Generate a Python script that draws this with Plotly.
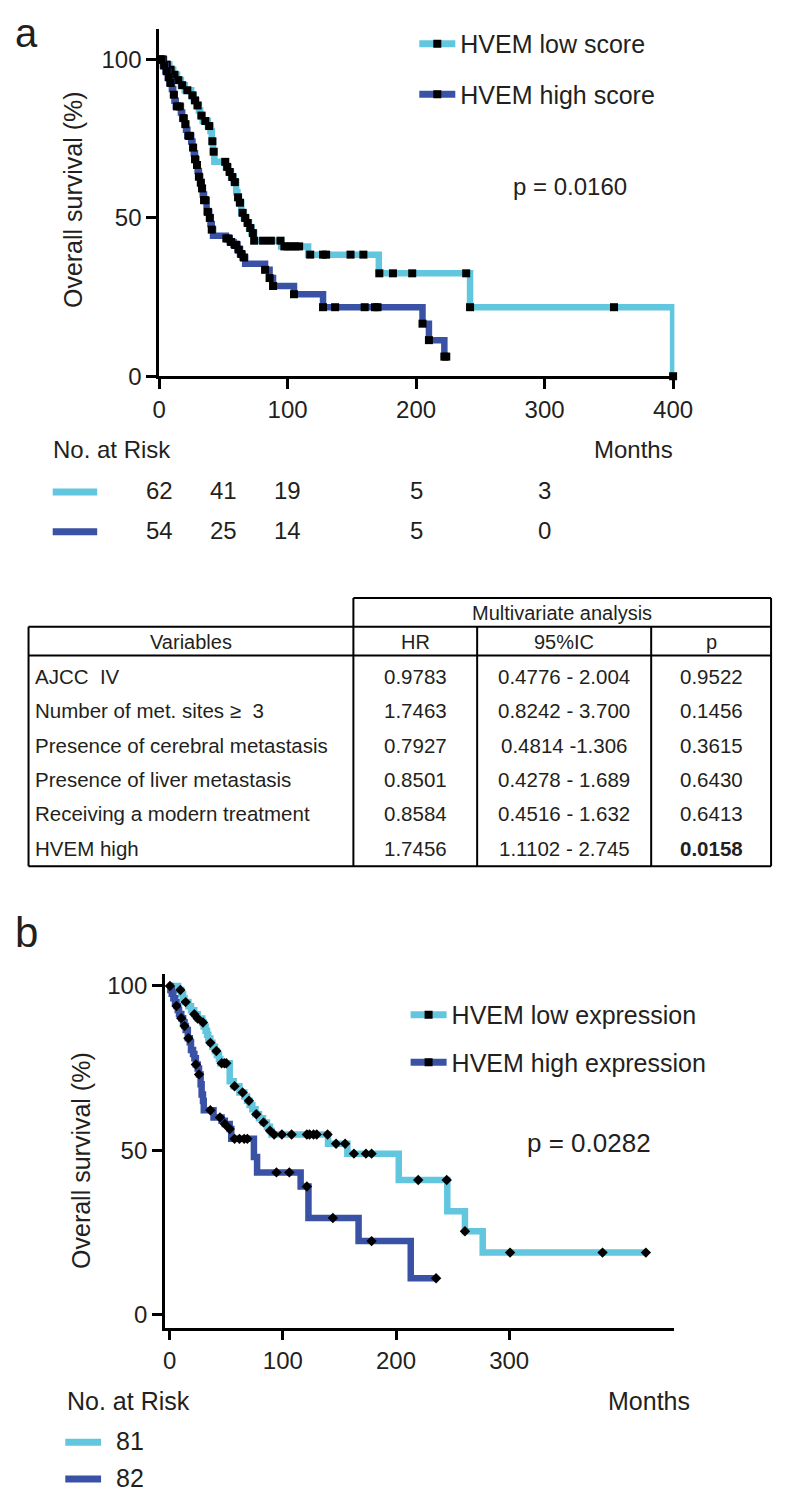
import numpy as np
import plotly.graph_objects as go

# page body has an 8px margin: the figure is sized and positions are mapped accordingly
OFF = 8
W, H = 800 - 2 * OFF, 1499 - 2 * OFF
LIGHT = "rgb(98,198,222)"
DARK = "rgb(58,82,165)"
INK = "#231f20"
FONT = "Liberation Sans, Arial, Helvetica, sans-serif"

# ---------------- Panel a : HVEM score (Kaplan-Meier) ----------------
a_low_t = [0, 4, 8, 11, 14, 17, 20, 25, 27, 29, 31, 32, 34, 38, 40, 41, 42, 43, 52, 54,
           56, 58, 60, 61, 62, 64, 66, 68, 70, 72, 74, 95, 116, 171, 242, 400]
a_low_s = [100, 98.4, 96.8, 95.2, 93.5, 91.9, 90.3, 88.7, 87.1, 85.5, 83.9, 82.3, 80.6, 79.0,
           77.4, 74.2, 70.9, 67.7, 66.1, 64.5, 62.9, 61.3, 58.1, 56.5, 54.8, 51.6, 50.0, 48.4,
           46.8, 45.2, 42.8, 41.0, 38.4, 32.5, 21.8, 0]
a_low_cens = [1, 3, 6, 9, 12, 15, 18, 22, 26, 28, 30, 33, 36, 39, 41.5, 42.5, 51.5, 53, 55, 57,
              59, 61.5, 63, 65, 67, 69, 71, 73, 74, 81, 87, 94.5, 97.5, 100, 103, 106, 109,
              117.6, 127.6, 130, 149, 159, 171.4, 182, 197, 239, 242, 354, 400]

a_high_t = [0, 3, 5, 7, 8, 10, 11, 12, 13, 17, 18, 20, 21, 22, 25, 26, 27, 28, 29, 30,
            31, 32, 33, 34, 35, 37, 39, 40, 41, 42, 52, 55, 58, 61, 63, 65, 67, 82.5, 86, 88.7,
            105, 127.6, 205, 210, 222, 224]
a_high_s = [100, 98.1, 96.3, 94.4, 92.6, 90.7, 88.9, 87.0, 85.2, 83.3, 81.5, 79.6, 77.8, 75.9,
            74.1, 72.2, 70.4, 68.5, 66.7, 64.8, 63.0, 61.1, 59.3, 57.4, 55.6, 51.9, 50.0, 48.1,
            46.3, 44.4, 43.5, 42.4, 41.5, 40.0, 38.6, 37.5, 35.5, 33.6, 31.0, 28.5, 25.9, 21.8,
            16.6, 11.4, 6.2, 6.2]
a_high_cens = [1, 2, 4, 6, 7.5, 9, 11.5, 14, 16, 19, 20.5, 23, 24, 26.5, 28, 29.5, 31, 32.5,
               33.5, 35, 36, 38, 39.5, 41, 52.4, 54, 56, 59, 60, 62, 64, 66, 82.5, 86, 88.7,
               105, 127.6, 137, 160, 168, 170, 205, 210, 222, 223.5]

a_ticks_x = [0, 100, 200, 300, 400]
a_ticks_y = [0, 50, 100]
a_risk_months = [0, 50, 100, 200, 300]
a_risk_low = [62, 41, 19, 5, 3]
a_risk_high = [54, 25, 14, 5, 0]
a_names = ["HVEM low score", "HVEM high score"]
a_pval = "p = 0.0160"

# ---------------- Multivariate table ----------------
tbl_vars = ["AJCC\u00a0 IV", "Number of met. sites \u2265  3", "Presence of cerebral metastasis",
            "Presence of liver metastasis", "Receiving a modern treatment", "HVEM high"]
tbl_hr = ["0.9783", "1.7463", "0.7927", "0.8501", "0.8584", "1.7456"]
tbl_ci = ["0.4776 - 2.004", "0.8242 - 3.700", "0.4814 -1.306", "0.4278 - 1.689",
          "0.4516 - 1.632", "1.1102 - 2.745"]
tbl_p = ["0.9522", "0.1456", "0.3615", "0.6430", "0.6413", "0.0158"]
tbl_bold = [False, False, False, False, False, True]
tbl_head = ["Variables", "HR", "95%IC", "p"]
tbl_title = "Multivariate analysis"

# ---------------- Panel b : HVEM expression ----------------
b_low_t = [0, 7.4, 10.2, 11.8, 13.1, 16.5, 18.8, 21.7, 24.7, 28.8, 30.0, 31.7, 33.0, 34.1,
           35.9, 37.7, 40.0, 41.7, 43.5, 44.7, 53.0, 56.5, 61.6, 65.9, 68.3, 70.6, 73.0, 75.8,
           78.9, 82.4, 85.9, 88.6, 90.0, 139.9, 157.0, 202.4, 245.3, 260.9, 276.6, 420.8]
b_low_s = [100, 98.8, 97.5, 96.3, 95.1, 93.8, 92.6, 91.4, 90.1, 88.9, 87.7, 86.4, 85.2, 84.0,
           82.7, 81.5, 80.2, 79.0, 77.8, 76.5, 71.0, 69.5, 67.6, 66.4, 65.1, 63.8, 62.5, 61.0,
           59.8, 58.5, 57.2, 56.0, 54.8, 52.0, 49.0, 41.0, 31.5, 25.4, 18.9, 18.9]
b_low_cens = [9.4, 14.1, 21.7, 24.7, 29.4, 35.9, 41.2, 45.9, 48.3, 50.0, 57.3, 64.4, 70.0,
              76.5, 82.9, 88.6, 92.3, 99.1, 107.7, 121.2, 123.6, 127.1, 129.9, 139.5, 147.0,
              155.0, 162.8, 173.4, 178.4, 219.6, 244.8, 260.9, 300.8, 382.5, 420.8]

b_high_t = [0, 0.6, 1.8, 3.2, 4.7, 6.0, 7.1, 8.2, 10.2, 11.8, 13.1, 14.1, 16.0, 17.7, 18.8,
            20.6, 21.8, 23.1, 24.7, 25.9, 27.3, 28.2, 29.4, 30.1, 38.7, 45.8, 48.7, 53.0, 54.4,
            74.4, 77.2, 115.7, 122.6, 166.9, 213.0, 235.4]
b_high_s = [100, 98.8, 97.6, 96.3, 95.1, 93.9, 92.7, 91.5, 90.2, 89.0, 87.8, 86.6, 84.1, 82.9,
            80.5, 79.3, 78.0, 76.1, 74.9, 73.1, 70.1, 67.0, 65.0, 62.2, 60.0, 59.0, 58.0, 56.5,
            53.5, 48.0, 43.3, 39.0, 29.4, 22.4, 11.1, 11.1]
b_high_cens = [0.2, 6.0, 10.2, 13.1, 16.5, 23.1, 25.9, 35.9, 44.4, 48.7, 53.0, 57.3, 61.6,
               65.8, 68.6, 94.3, 105.7, 121.2, 144.2, 178.4, 235.4]

b_ticks_x = [0, 100, 200, 300]
b_ticks_y = [0, 50, 100]
b_risk_low = [81]
b_risk_high = [82]
b_names = ["HVEM low expression", "HVEM high expression"]
b_pval = "p = 0.0282"


def px(x):
    return (x - OFF) / W


def py(y):
    return 1 - (y - OFF) / H


def step_at(ts, times, surv):
    times = np.asarray(times, dtype=float)
    surv = np.asarray(surv, dtype=float)
    idx = np.searchsorted(times, np.asarray(ts, dtype=float), side="right") - 1
    return surv[np.clip(idx, 0, len(surv) - 1)]


fig = go.Figure()


def add_km(t, s, cens, color, name, xa, ya, legend, group, symbol, msize):
    fig.add_trace(go.Scatter(x=t, y=s, mode="lines", xaxis=xa, yaxis=ya,
                             line=dict(color=color, width=6.5, shape="hv"),
                             showlegend=False, hoverinfo="skip", cliponaxis=False))
    fig.add_trace(go.Scatter(x=cens, y=step_at(cens, t, s), mode="markers", xaxis=xa, yaxis=ya,
                             marker=dict(symbol=symbol, size=msize, color="black"),
                             showlegend=False, hoverinfo="skip", cliponaxis=False))
    fig.add_trace(go.Scatter(x=[None], y=[None], mode="lines+markers", xaxis=xa, yaxis=ya,
                             name=name, legend=legend, legendgroup=group,
                             line=dict(color=color, width=7),
                             marker=dict(symbol="square", size=8, color="black")))


add_km(a_low_t, a_low_s, a_low_cens, LIGHT, a_names[0], "x", "y", "legend", "a1", "square", 8)
add_km(a_high_t, a_high_s, a_high_cens, DARK, a_names[1], "x", "y", "legend", "a2", "square", 8)
add_km(b_low_t, b_low_s, b_low_cens, LIGHT, b_names[0], "x2", "y2", "legend2", "b1", "diamond", 8)
add_km(b_high_t, b_high_s, b_high_cens, DARK, b_names[1], "x2", "y2", "legend2", "b2", "diamond", 8)

axis_common = dict(showline=True, linecolor="black", linewidth=2.5, ticks="outside",
                   ticklen=10, tickwidth=2.5, tickcolor="black", showgrid=False,
                   zeroline=False, tickfont=dict(size=24, family=FONT, color=INK))

ann = []
shapes = []


def text(x, y, s, size=24, xanchor="center", xref="paper", bold=False, angle=0, yanchor="middle"):
    ann.append(dict(x=x, y=y, xref=xref, yref="paper", text=("<b>%s</b>" % s) if bold else s,
                    showarrow=False, xanchor=xanchor, yanchor=yanchor, textangle=angle,
                    font=dict(size=size, family=FONT, color=INK)))


def hline(x0, x1, y, color="black", width=2):
    shapes.append(dict(type="line", xref="paper", yref="paper", x0=px(x0), x1=px(x1),
                       y0=py(y), y1=py(y), line=dict(color=color, width=width)))


def vline(x, y0, y1, width=2):
    shapes.append(dict(type="line", xref="paper", yref="paper", x0=px(x), x1=px(x),
                       y0=py(y0), y1=py(y1), line=dict(color="black", width=width)))


# panel labels and texts
text(px(6), py(31), "a", size=40, xanchor="left")
text(px(6), py(940), "b", size=42, xanchor="left")
text(px(68), py(200), "Overall survival (%)", size=25, angle=-90)
text(px(77), py(1170), "Overall survival (%)", size=25, angle=-90)
text(px(582), py(186), a_pval, size=24)
text(px(602), py(1153), b_pval, size=26)

# at-risk panel a
text(px(45), py(452), "No. at Risk", size=24, xanchor="left")
text(px(648), py(452), "Months", size=24)
hline(47, 93, 495, LIGHT, 7)
hline(47, 93, 535, DARK, 7)
for m, v in zip(a_risk_months, a_risk_low):
    text(m, py(493), str(v), size=24, xref="x")
for m, v in zip(a_risk_months, a_risk_high):
    text(m, py(534), str(v), size=24, xref="x")

# at-risk panel b
text(px(60), py(1413), "No. at Risk", size=25, xanchor="left")
text(px(664), py(1413), "Months", size=25)
hline(60, 97, 1455, LIGHT, 7)
hline(60, 97, 1492, DARK, 7)
text(px(110), py(1454), str(b_risk_low[0]), size=25, xanchor="left")
text(px(110), py(1491), str(b_risk_high[0]), size=25, xanchor="left")

# table
col_edges = [22, 358, 486, 666, 790]
t_top, t_h1, t_h2, t_bot = 602, 631, 660, 873
row_y = [681.5, 716, 751, 785.5, 820, 855]
hline(358, 790, t_top)
hline(22, 790, t_h1)
hline(22, 790, t_h2)
hline(22, 790, t_bot)
vline(22, t_h1, t_bot)
vline(358, t_top, t_bot)
vline(486, t_h1, t_bot)
vline(666, t_h1, t_bot)
vline(790, t_top, t_bot)
text(px((358 + 790) / 2), py(617), tbl_title, size=20)
centers = [(col_edges[i] + col_edges[i + 1]) / 2 for i in range(4)]
for c, h in zip(centers, tbl_head):
    text(px(c), py(646), h, size=20)
for i in range(len(tbl_vars)):
    text(px(27), py(row_y[i]), tbl_vars[i], size=20.5, xanchor="left")
    text(px(centers[1]), py(row_y[i]), tbl_hr[i], size=20.5)
    text(px(centers[2]), py(row_y[i]), tbl_ci[i], size=20.5)
    text(px(centers[3]), py(row_y[i]), tbl_p[i], size=20.5, bold=tbl_bold[i])

fig.update_layout(
    width=W, height=H, margin=dict(l=0, r=0, t=0, b=0),
    paper_bgcolor="white", plot_bgcolor="white",
    xaxis=dict(domain=[px(157), px(690)], range=[0, 401], anchor="y", tickvals=a_ticks_x, **axis_common),
    yaxis=dict(domain=[py(378), py(27)], range=[0, 109.7], anchor="x", tickvals=a_ticks_y, **axis_common),
    xaxis2=dict(domain=[px(163), px(690)], range=[-4.3, 446], anchor="y2", tickvals=b_ticks_x, **axis_common),
    yaxis2=dict(domain=[py(1339), py(982)], range=[-3.9, 103.6], anchor="x2", tickvals=b_ticks_y, **axis_common),
    legend=dict(x=px(421), y=py(19), xanchor="left", yanchor="top", bgcolor="rgba(0,0,0,0)",
                font=dict(size=25, family=FONT, color=INK), tracegroupgap=15, itemwidth=36),
    legend2=dict(x=px(412), y=py(1000), xanchor="left", yanchor="top", bgcolor="rgba(0,0,0,0)",
                 font=dict(size=25, family=FONT, color=INK), tracegroupgap=12, itemwidth=36),
    annotations=ann, shapes=shapes, showlegend=True,
)

fig.write_html("out.html")
